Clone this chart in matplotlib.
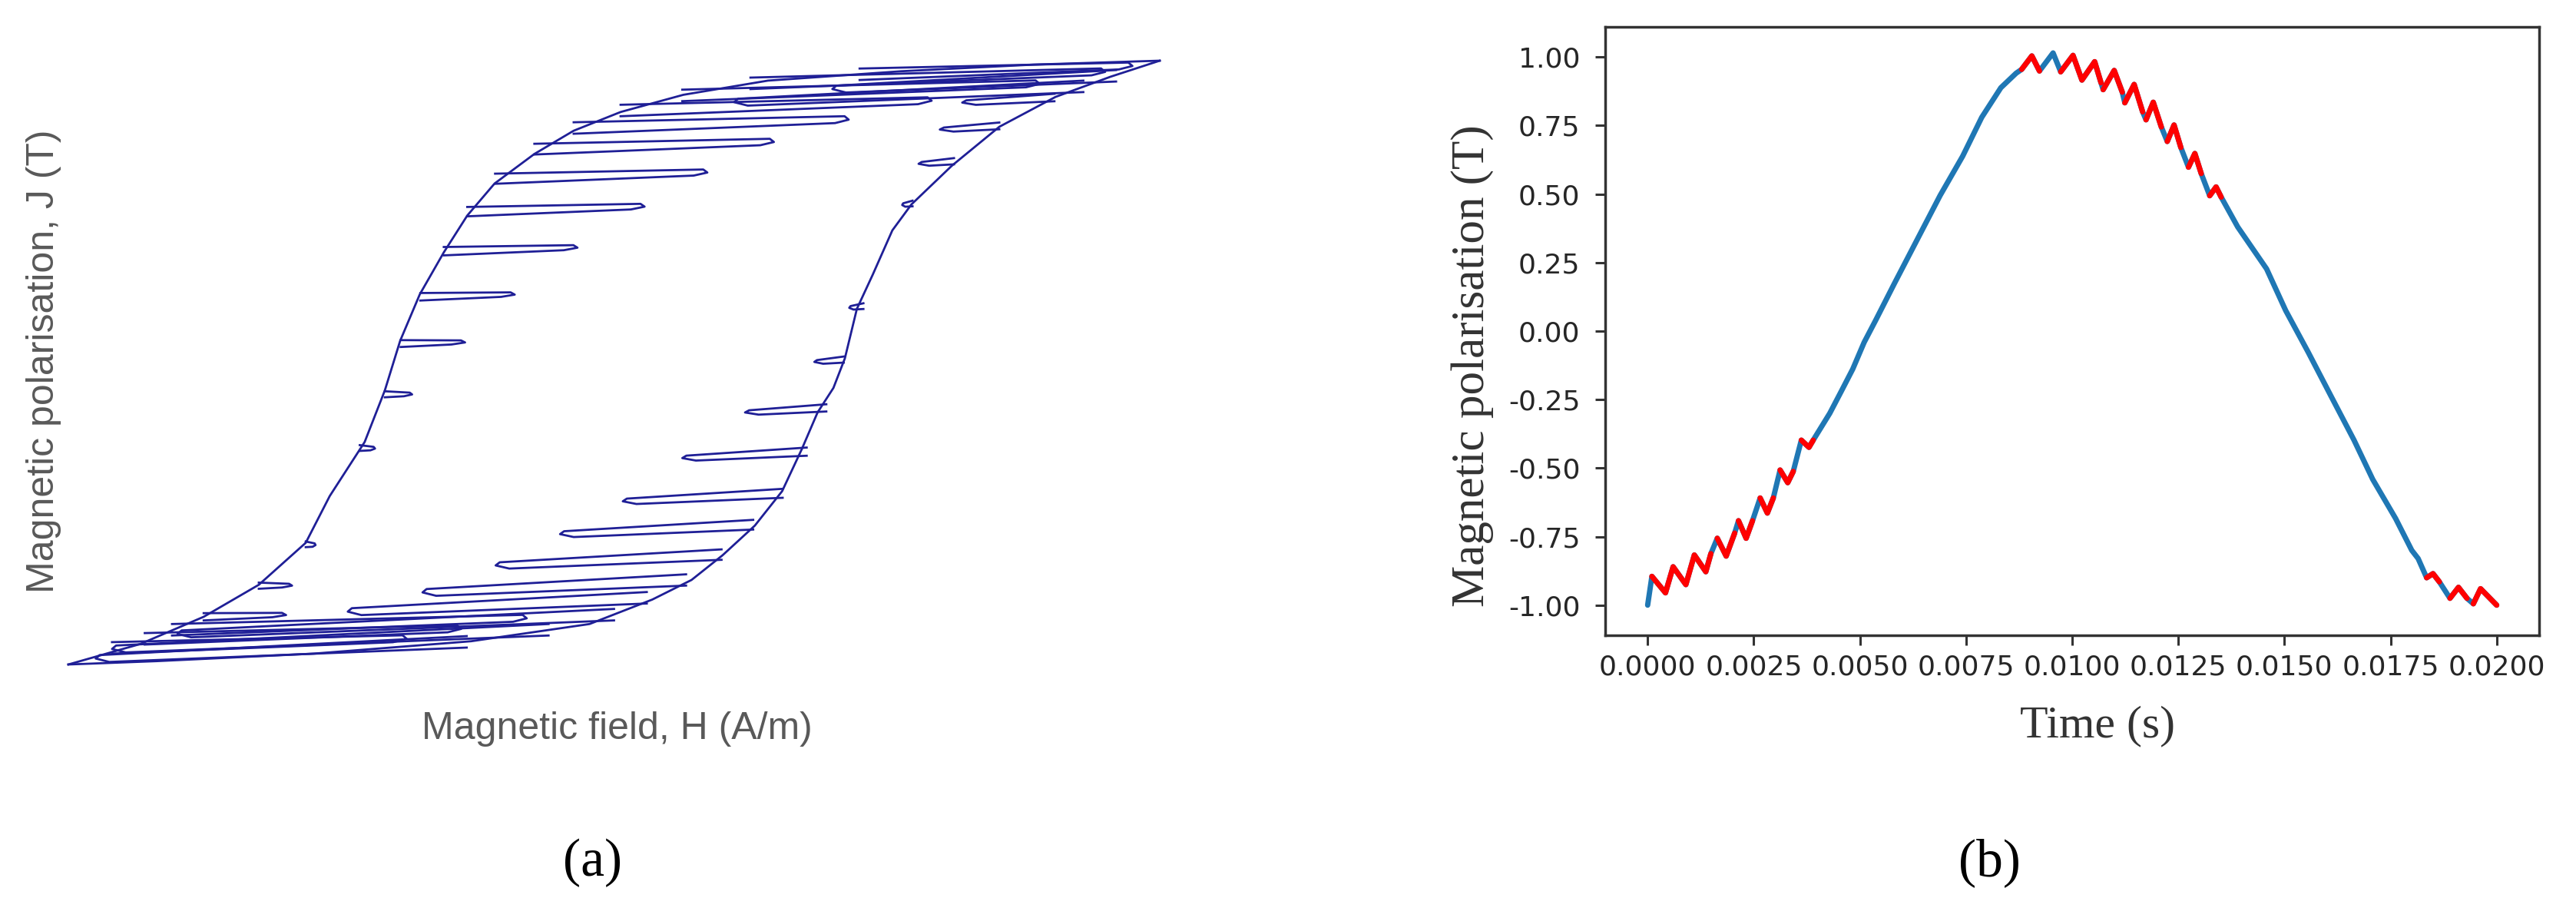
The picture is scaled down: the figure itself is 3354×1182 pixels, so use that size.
import matplotlib.pyplot as plt
import numpy as np

# ---- (a) hysteresis loop, normalised H and J (no axes shown in the original) ----
# descending branch, from positive tip to negative tip
desc_H = [1.0, 0.769, 0.526, 0.282, 0.127, 0.012, -0.074, -0.146, -0.219, -0.269, -0.312,
          -0.356, -0.392, -0.420, -0.457, -0.521, -0.565, -0.651, -0.752, -0.868, -1.0]
desc_J = [1.0, 0.987, 0.965, 0.934, 0.887, 0.830, 0.768, 0.691, 0.593, 0.487, 0.365,
          0.226, 0.072, -0.092, -0.263, -0.442, -0.597, -0.736, -0.842, -0.932, -1.0]
# ascending branch, from negative tip to positive tip
asc_H = [-1.0, -0.839, -0.550, -0.262, -0.045, 0.070, 0.142, 0.199, 0.258, 0.308, 0.344, 0.373,
         0.402, 0.423, 0.445, 0.474, 0.510, 0.545, 0.619, 0.706, 0.809, 0.910, 1.0]
asc_J = [-1.0, -0.989, -0.964, -0.923, -0.866, -0.785, -0.720, -0.638, -0.540, -0.426, -0.287, -0.165,
         -0.084, 0.014, 0.178, 0.291, 0.438, 0.524, 0.652, 0.781, 0.880, 0.947, 1.0]

# minor loops on the descending branch (run towards +H)
left_J = [-0.945, -0.915, -0.885, -0.842, -0.739, -0.602, -0.283, -0.105, 0.063, 0.218, 0.369, 0.500,
          0.609, 0.707, 0.777, 0.835, 0.885, 0.925, 0.955]
left_H0 = [-0.92, -0.86, -0.81, -0.752, -0.651, -0.565, -0.466, -0.420, -0.391, -0.355, -0.312, -0.269,
           -0.218, -0.146, -0.074, 0.012, 0.125, 0.25, 0.45]
left_H1 = [-0.38, -0.28, -0.16, -0.601, -0.590, -0.547, -0.438, -0.370, -0.273, -0.182, -0.067, 0.056,
           0.171, 0.293, 0.430, 0.582, 0.78, 0.90, 0.95]
# minor loops on the ascending branch (run towards -H)
right_J = [0.950, 0.915, 0.878, 0.784, 0.667, 0.527, 0.187, 0.010, -0.150, -0.295, -0.433, -0.537,
           -0.636, -0.720, -0.779, -0.835, -0.885, -0.925]
right_H0 = [0.92, 0.86, 0.807, 0.706, 0.623, 0.547, 0.457, 0.421, 0.389, 0.353, 0.309, 0.255,
            0.197, 0.132, 0.060, 0.0, -0.12, -0.27]
right_H1 = [0.40, 0.22, 0.638, 0.597, 0.558, 0.528, 0.431, 0.367, 0.240, 0.125, 0.016, -0.099,
            -0.217, -0.351, -0.488, -0.80, -0.92, -0.95]

# ---- (b) polarisation waveform ----
time_s = [0.0, 0.0001, 0.00042, 0.0006, 0.0009, 0.0011, 0.00137, 0.00149, 0.00164, 0.00185, 0.00205,
          0.00214, 0.00232, 0.00247, 0.00265, 0.00282, 0.00296, 0.00312, 0.0033, 0.00343, 0.00362,
          0.0038, 0.0039, 0.00429, 0.00456, 0.00483, 0.0051, 0.00537, 0.00581, 0.00635, 0.00689,
          0.00742, 0.00787, 0.00832, 0.00868, 0.00881, 0.00905, 0.00923, 0.00955, 0.00973, 0.01002,
          0.01023, 0.01053, 0.01068, 0.01073, 0.01099, 0.01118, 0.01124, 0.01146, 0.01166, 0.01174,
          0.01191, 0.0121, 0.01224, 0.0124, 0.01256, 0.01274, 0.01289, 0.01304, 0.01324, 0.01339,
          0.01351, 0.0139, 0.01458, 0.01503, 0.01556, 0.0161, 0.01664, 0.01708, 0.01762, 0.018,
          0.01815, 0.01835, 0.0185, 0.01865, 0.0189, 0.0191, 0.0193, 0.01945, 0.01962, 0.02]
polar_T = [-1.0, -0.895, -0.955, -0.860, -0.925, -0.817, -0.878, -0.812, -0.756, -0.821, -0.737,
           -0.692, -0.756, -0.692, -0.609, -0.664, -0.609, -0.507, -0.553, -0.512, -0.398,
           -0.424, -0.398, -0.300, -0.220, -0.139, -0.041, 0.039, 0.173, 0.334, 0.495,
           0.638, 0.780, 0.888, 0.941, 0.955, 1.004, 0.949, 1.015, 0.946, 1.006,
           0.916, 0.983, 0.906, 0.881, 0.951, 0.872, 0.833, 0.900, 0.800, 0.771,
           0.835, 0.745, 0.692, 0.752, 0.670, 0.598, 0.648, 0.575, 0.494, 0.526,
           0.489, 0.380, 0.227, 0.075, -0.077, -0.238, -0.398, -0.541, -0.684, -0.800,
           -0.830, -0.900, -0.885, -0.915, -0.975, -0.935, -0.975, -0.995, -0.940, -1.0]
# time spans of the minor-loop ripples drawn in red
red_spans = [(0.0001, 0.00149), (0.00164, 0.00205), (0.00214, 0.00247), (0.00265, 0.00296),
             (0.00312, 0.00343), (0.00362, 0.0039), (0.00881, 0.00923), (0.00973, 0.01068),
             (0.01073, 0.01118), (0.01124, 0.01166), (0.01174, 0.0121), (0.01224, 0.01256),
             (0.01274, 0.01304), (0.01324, 0.01351), (0.01835, 0.01865), (0.0189, 0.0193),
             (0.01945, 0.02)]
x_ticks = [0.0, 0.0025, 0.005, 0.0075, 0.01, 0.0125, 0.015, 0.0175, 0.02]
y_ticks = [-1.0, -0.75, -0.5, -0.25, 0.0, 0.25, 0.5, 0.75, 1.0]

W, H = 3354, 1182
plt.rcParams['axes.unicode_minus'] = False
loop_color = '#1f1f96'


def minor_loop(J, H0, H1, sign):
    # thin sliver leaving the branch at H0 and turning back at H1
    L = abs(H1 - H0)
    th = 0.018 + 0.04 * min(L, 0.5)
    tilt = 0.07 * L
    back = min(0.025, 0.3 * L)
    hx = [H0, H1 - sign * back * 0.3, H1, H1 - sign * back, H0]
    jy = [J + th / 2, J + sign * tilt + th * 0.1, J + sign * tilt - th * 0.2,
          J + sign * tilt - th * 0.5, J - th / 2]
    return hx, jy


fig = plt.figure(figsize=(W / 100, H / 100), dpi=100)

# ---------------- panel (a) ----------------
axa = fig.add_axes([89 / W, 1 - 865 / H, 1421 / W, 786 / H])
axa.set_xlim(-1, 1)
axa.set_ylim(-1, 1)
axa.axis('off')
lw_loop = 2.0
axa.plot(desc_H, desc_J, color=loop_color, lw=lw_loop, clip_on=False)
axa.plot(asc_H, asc_J, color=loop_color, lw=lw_loop, clip_on=False)
for j, h0, h1 in zip(left_J, left_H0, left_H1):
    hx, jy = minor_loop(j, h0, h1, 1)
    axa.plot(hx, jy, color=loop_color, lw=lw_loop, clip_on=False)
for j, h0, h1 in zip(right_J, right_H0, right_H1):
    hx, jy = minor_loop(j, h0, h1, -1)
    axa.plot(hx, jy, color=loop_color, lw=lw_loop, clip_on=False)

fig.text(57 / W, 1 - 470 / H, 'Magnetic polarisation, J (T)', rotation=90, ha='center', va='center',
         fontsize=36, family='Liberation Sans', color='#595959')
fig.text(803 / W, 1 - 949 / H, 'Magnetic field, H (A/m)', ha='center', va='center',
         fontsize=36, family='Liberation Sans', color='#595959')

# ---------------- panel (b) ----------------
axb = fig.add_axes([2090 / W, 1 - 827 / H, 1216 / W, 792 / H])
t = np.array(time_s)
p = np.array(polar_T)
axb.plot(t, p, color='#1f77b4', lw=5, solid_capstyle='round', solid_joinstyle='round')
for t0, t1 in red_spans:
    m = (t >= t0 - 1e-9) & (t <= t1 + 1e-9)
    axb.plot(t[m], p[m], color='red', lw=5, solid_capstyle='round', solid_joinstyle='round')

axb.set_xlim(-0.001, 0.021)
axb.set_ylim(-1.11, 1.11)
axb.set_xticks(x_ticks)
axb.set_xticklabels(['%.4f' % v for v in x_ticks])
axb.set_yticks(y_ticks)
axb.set_yticklabels(['%.2f' % v for v in y_ticks])
for s in axb.spines.values():
    s.set_linewidth(2.5)
    s.set_color('#333333')
axb.tick_params(length=9.5, width=2.2, labelsize=26, color='#333333', labelcolor='#262626')
axb.tick_params(axis='x', pad=8)
axb.tick_params(axis='y', pad=14)

axb.set_ylabel('Magnetic polarisation (T)', family='Liberation Serif', fontsize=44, color='#333333',
               va='center')
axb.yaxis.set_label_coords(-0.142, 0.443)
axb.set_xlabel('Time (s)', family='Liberation Serif', fontsize=43, color='#333333', va='center')
axb.xaxis.set_label_coords(0.527, -0.150)

fig.text(772 / W, 1 - 1123 / H, '(a)', ha='center', va='center', fontsize=50, family='Liberation Serif')
fig.text(2590 / W, 1 - 1123 / H, '(b)', ha='center', va='center', fontsize=50, family='Liberation Serif')

fig.savefig('out.png', dpi=100)
